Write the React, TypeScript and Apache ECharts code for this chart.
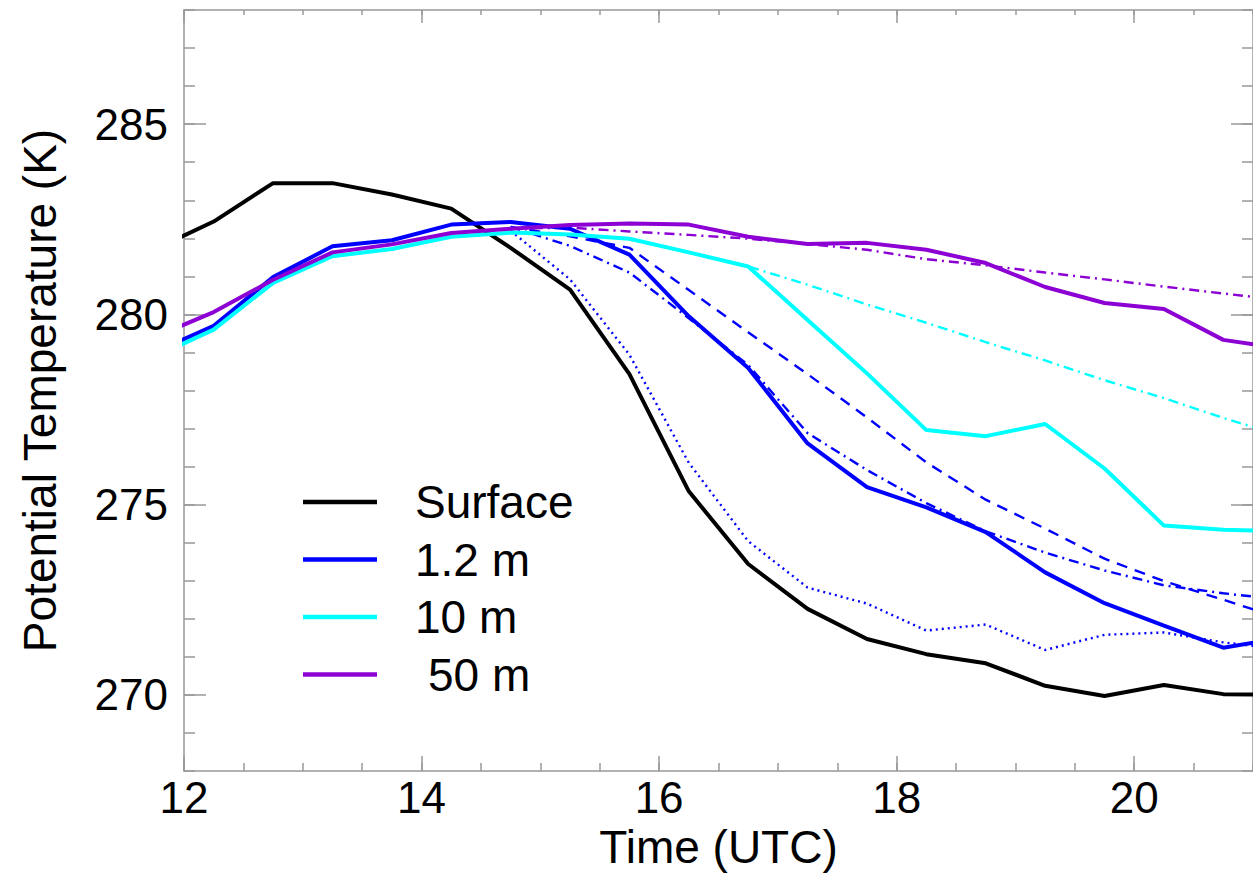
import React, { useEffect, useRef } from 'react';
import * as echarts from 'echarts';

// Observation times (UTC hours)
const times = [11.75, 12.25, 12.75, 13.25, 13.75, 14.25, 14.75, 15.25, 15.75, 16.25, 16.75, 17.25, 17.75, 18.25, 18.75, 19.25, 19.75, 20.25, 20.75, 21.25];
const surface = [281.7, 282.44, 283.45, 283.45, 283.15, 282.78, 281.75, 280.65, 278.43, 275.35, 273.44, 272.26, 271.47, 271.07, 270.83, 270.24, 269.97, 270.26, 270.02, 270.0];
const obs1p2 = [279.0, 279.7, 280.98, 281.79, 281.95, 282.36, 282.43, 282.25, 281.57, 279.95, 278.59, 276.61, 275.46, 274.93, 274.28, 273.22, 272.41, 271.82, 271.24, 271.5];
const obs10 = [278.88, 279.6, 280.83, 281.53, 281.72, 282.04, 282.15, 282.1, 281.99, 281.63, 281.26, 279.85, 278.45, 276.96, 276.8, 277.12, 275.95, 274.45, 274.34, 274.3];
const obs50 = [279.4, 280.06, 280.91, 281.63, 281.84, 282.14, 282.25, 282.35, 282.39, 282.36, 282.04, 281.85, 281.88, 281.7, 281.35, 280.72, 280.3, 280.14, 279.33, 279.1];

// Model curves (from 14.75 UTC)
const modelTimes = [14.75, 15.25, 15.75, 16.25, 16.75, 17.25, 17.75, 18.25, 18.75, 19.25, 19.75, 20.25, 20.75, 21.25];
const blueDotted = [282.2, 280.92, 278.94, 276.1, 274.04, 272.82, 272.4, 271.69, 271.85, 271.18, 271.58, 271.64, 271.38, 271.2];
const blueDashed = [282.3, 282.05, 281.75, 280.64, 279.53, 278.43, 277.29, 276.11, 275.13, 274.37, 273.58, 272.99, 272.5, 272.0];
const blueDashDot = [282.3, 281.8, 281.1, 279.9, 278.67, 276.88, 275.91, 275.04, 274.3, 273.74, 273.27, 272.88, 272.67, 272.5];
const cyanDashDot = [282.15, 282.1, 281.99, 281.63, 281.26, 280.78, 280.26, 279.78, 279.27, 278.79, 278.27, 277.8, 277.28, 276.8];
const purpleDashDot = [282.25, 282.28, 282.18, 282.09, 281.99, 281.85, 281.7, 281.45, 281.29, 281.1, 280.92, 280.73, 280.55, 280.37];

const xMajorTicks = [12, 14, 16, 18, 20];
const yMajorTicks = [270, 275, 280, 285];

const BLACK = '#000000';
const BLUE = '#0000ff';
const CYAN = '#00ffff';
const PURPLE = '#8c00d4';
const AXIS = '#999999';
const FONT = '"Liberation Sans", Arial, Helvetica, sans-serif';

const pairs = (xs: number[], ys: number[]) => xs.map((x, i) => [x, ys[i]]);

export default function App() {
  const ref = useRef<HTMLDivElement>(null);

  useEffect(() => {
    document.body.style.margin = '0';
    document.body.style.overflow = 'hidden';
    if (!ref.current) return;
    const chart = echarts.init(ref.current, undefined, { renderer: 'svg' });

    const axisLine = { show: true, lineStyle: { color: AXIS, width: 1.5 } };
    const noLine = { show: false };
    const tickStyle = { color: AXIS, width: 1.5 };

    const xBase = { type: 'value' as const, min: 12, max: 21, splitLine: { show: false } };
    const yBase = { type: 'value' as const, min: 268, max: 288, splitLine: { show: false } };

    const solid = (name: string, data: number[], color: string) => ({
      name,
      type: 'line',
      data: pairs(times, data),
      showSymbol: false,
      symbol: 'none',
      color,
      lineStyle: { color, width: 4, type: 'solid' },
      z: 3,
    });
    const model = (id: string, data: number[], color: string, dash: number[]) => ({
      id,
      name: id,
      type: 'line',
      data: pairs(modelTimes, data),
      showSymbol: false,
      symbol: 'none',
      color,
      lineStyle: { color, width: 2.4, type: dash, cap: 'butt' },
      z: 2,
    });

    chart.setOption({
      animation: false,
      backgroundColor: '#ffffff',
      grid: { left: 184, top: 10, right: -11, bottom: 123, containLabel: false },
      xAxis: [
        {
          ...xBase, position: 'bottom', interval: 0.5,
          axisLine, axisTick: { show: true, inside: true, length: 8, lineStyle: tickStyle },
          axisLabel: { show: false },
        },
        {
          ...xBase, position: 'bottom', interval: 2,
          axisLine: noLine,
          axisTick: { show: true, inside: true, length: 15, lineStyle: tickStyle, customValues: xMajorTicks },
          axisLabel: {
            show: true, customValues: xMajorTicks, margin: 4, fontSize: 44, color: '#000', fontFamily: FONT,
            formatter: (v: number) => (xMajorTicks.includes(v) ? String(v) : ''),
          },
          name: 'Time (UTC)', nameLocation: 'middle', nameGap: 47,
          nameTextStyle: { fontSize: 46, color: '#000', fontFamily: FONT },
        },
        {
          ...xBase, position: 'top', interval: 0.5,
          axisLine, axisTick: { show: true, inside: true, length: 5, lineStyle: tickStyle },
          axisLabel: { show: false },
        },
        {
          ...xBase, position: 'top', interval: 2,
          axisLine: noLine,
          axisTick: { show: true, inside: true, length: 13, lineStyle: tickStyle, customValues: xMajorTicks },
          axisLabel: { show: false },
        },
      ],
      yAxis: [
        {
          ...yBase, position: 'left', interval: 1,
          axisLine, axisTick: { show: true, inside: true, length: 11, lineStyle: tickStyle },
          axisLabel: { show: false },
        },
        {
          ...yBase, position: 'left',
          axisLine: noLine,
          axisTick: { show: true, inside: true, length: 22, lineStyle: tickStyle, customValues: yMajorTicks },
          axisLabel: { show: true, customValues: yMajorTicks, margin: 16, fontSize: 44, color: '#000', fontFamily: FONT },
          name: 'Potential Temperature (K)', nameLocation: 'middle', nameGap: 121, nameRotate: 90,
          nameTextStyle: { fontSize: 46, color: '#000', fontFamily: FONT },
        },
        {
          ...yBase, position: 'right', interval: 1,
          axisLine, axisTick: { show: true, inside: true, length: 11, lineStyle: tickStyle },
          axisLabel: { show: false },
        },
        {
          ...yBase, position: 'right',
          axisLine: noLine,
          axisTick: { show: true, inside: true, length: 22, lineStyle: tickStyle, customValues: yMajorTicks },
          axisLabel: { show: false },
        },
      ],
      legend: {
        data: [
          { name: 'Surface' },
          { name: '1.2 m' },
          { name: '10 m' },
          { name: '50 m', textStyle: { padding: [0, 0, 0, 46] } },
        ],
        orient: 'vertical',
        left: 303,
        top: 479,
        padding: 0,
        itemWidth: 74,
        itemHeight: 4.5,
        itemGap: 11.5,
        icon: 'rect',
        selectedMode: false,
        textStyle: { fontSize: 46, lineHeight: 46, color: '#000', fontFamily: FONT, padding: [0, 0, 0, 33] },
      },
      series: [
        model('1.2 m model (dotted)', blueDotted, BLUE, [2, 4]),
        model('1.2 m model (dashed)', blueDashed, BLUE, [11, 8]),
        model('1.2 m model (dash-dot)', blueDashDot, BLUE, [10, 5, 2, 5]),
        model('10 m model (dash-dot)', cyanDashDot, CYAN, [10, 5, 2, 5]),
        model('50 m model (dash-dot)', purpleDashDot, PURPLE, [10, 5, 2, 5]),
        solid('Surface', surface, BLACK),
        solid('1.2 m', obs1p2, BLUE),
        solid('10 m', obs10, CYAN),
        solid('50 m', obs50, PURPLE),
      ],
    });

    return () => chart.dispose();
  }, []);

  return <div ref={ref} style={{ width: 1253, height: 894 }} />;
}
